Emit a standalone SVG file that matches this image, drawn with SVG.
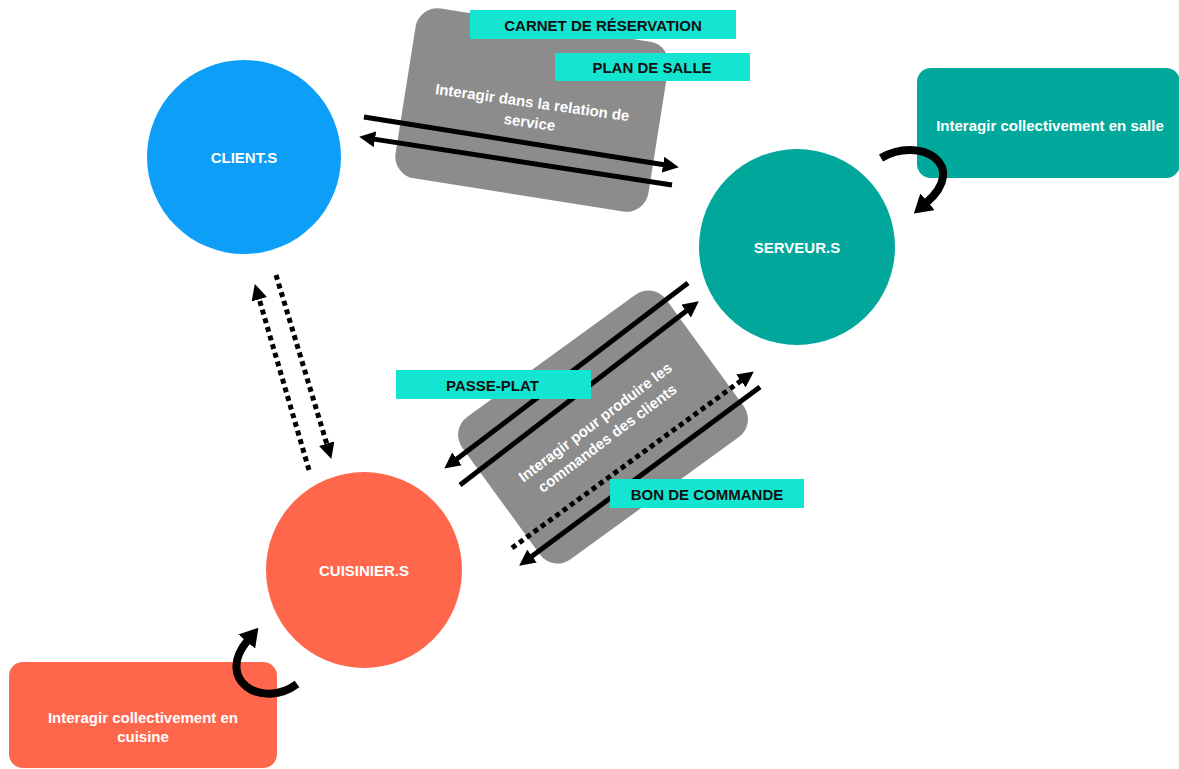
<svg xmlns="http://www.w3.org/2000/svg" width="1179" height="769" viewBox="0 0 1179 769">
<style>
text{font-family:"Liberation Sans",Arial,sans-serif;font-weight:bold;font-size:15px;text-anchor:middle}
.w{fill:#ffffff}
.k{fill:#111111}
.gbox{fill:#8c8c8c}
.lab{fill:#14e5d0}
.ln{stroke:#000;stroke-width:5;fill:none}
.dot{stroke:#000;stroke-width:5;fill:none;stroke-dasharray:5 4}
.loop{stroke:#000;stroke-width:8;fill:none}
</style>
<defs>
<marker id="ah" markerUnits="userSpaceOnUse" markerWidth="18" markerHeight="16" refX="1" refY="8" orient="auto">
<path d="M0,0 L16,8 L0,16 z" fill="#000"/>
</marker>
<marker id="ahL" markerUnits="userSpaceOnUse" markerWidth="20" markerHeight="22" refX="2" refY="11" orient="auto">
<path d="M0,0 L18,11 L0,22 z" fill="#000"/>
</marker>
</defs>
<rect width="1179" height="769" fill="#ffffff"/>

<g id="box-relation">
<rect class="gbox" x="-128" y="-86" width="256" height="172" rx="22" transform="translate(532,110) rotate(9)"/>
<g transform="translate(531,112) rotate(8)">
<text class="w" x="0" y="-4.5">Interagir dans la relation de</text>
<text class="w" x="0" y="15.5">service</text>
</g>
</g>

<g id="box-production">
<rect class="gbox" x="-126" y="-88" width="252" height="176" rx="22" transform="translate(603,427) rotate(-36)"/>
<g transform="translate(601,430) rotate(-37)">
<text class="w" x="0" y="-4.5">Interagir pour produire les</text>
<text class="w" x="0" y="15.5">commandes des clients</text>
</g>
</g>

<g id="box-salle">
<rect x="917" y="68" width="263" height="110" rx="14" fill="#00a99b"/>
<text class="w" x="1050" y="130.5">Interagir collectivement en salle</text>
</g>

<g id="box-cuisine">
<rect x="9" y="662" width="268" height="106" rx="14" fill="#ff674d"/>
<text class="w" x="143" y="723">Interagir collectivement en</text>
<text class="w" x="143" y="742">cuisine</text>
</g>

<g id="client">
<circle cx="244" cy="157" r="97" fill="#0d9ef8"/>
<text class="w" x="244" y="162.5">CLIENT.S</text>
</g>

<g id="serveur">
<circle cx="797" cy="247" r="98" fill="#01a79a"/>
<text class="w" x="797" y="252.5">SERVEUR.S</text>
</g>

<g id="cuisinier">
<circle cx="364" cy="570" r="98" fill="#ff674d"/>
<text class="w" x="364" y="576">CUISINIER.S</text>
</g>

<g id="connectors">
<line class="ln" x1="364" y1="117" x2="664" y2="164.8" marker-end="url(#ah)"/>
<line class="ln" x1="672" y1="185" x2="374" y2="139.1" marker-end="url(#ah)"/>
<line class="dot" x1="309" y1="470" x2="259" y2="298.4" marker-end="url(#ah)"/>
<line class="dot" x1="276" y1="275" x2="327" y2="444.6" marker-end="url(#ah)"/>
<line class="ln" x1="688" y1="283" x2="456.2" y2="459.5" marker-end="url(#ah)"/>
<line class="ln" x1="460" y1="485" x2="686.9" y2="310.5" marker-end="url(#ah)"/>
<line class="dot" x1="512" y1="548" x2="741.7" y2="380.3" marker-end="url(#ah)"/>
<line class="ln" x1="760" y1="387" x2="531.2" y2="556.7" marker-end="url(#ah)"/>
<path class="loop" d="M881 158 C920 135, 970 165, 926 203" marker-end="url(#ahL)"/>
<path class="loop" d="M297 684 C262 710, 214 680, 248 640" marker-end="url(#ahL)"/>
</g>

<g id="label-carnet">
<rect class="lab" x="470" y="10" width="266" height="29"/>
<text class="k" x="603" y="30.5">CARNET DE RÉSERVATION</text>
</g>
<g id="label-plan">
<rect class="lab" x="555" y="53" width="195" height="28"/>
<text class="k" x="652" y="72.5">PLAN DE SALLE</text>
</g>
<g id="label-passe">
<rect class="lab" x="396" y="370" width="195" height="29"/>
<text class="k" x="492.5" y="390.5">PASSE-PLAT</text>
</g>
<g id="label-bon">
<rect class="lab" x="610" y="479" width="194" height="29"/>
<text class="k" x="707" y="500">BON DE COMMANDE</text>
</g>
</svg>
